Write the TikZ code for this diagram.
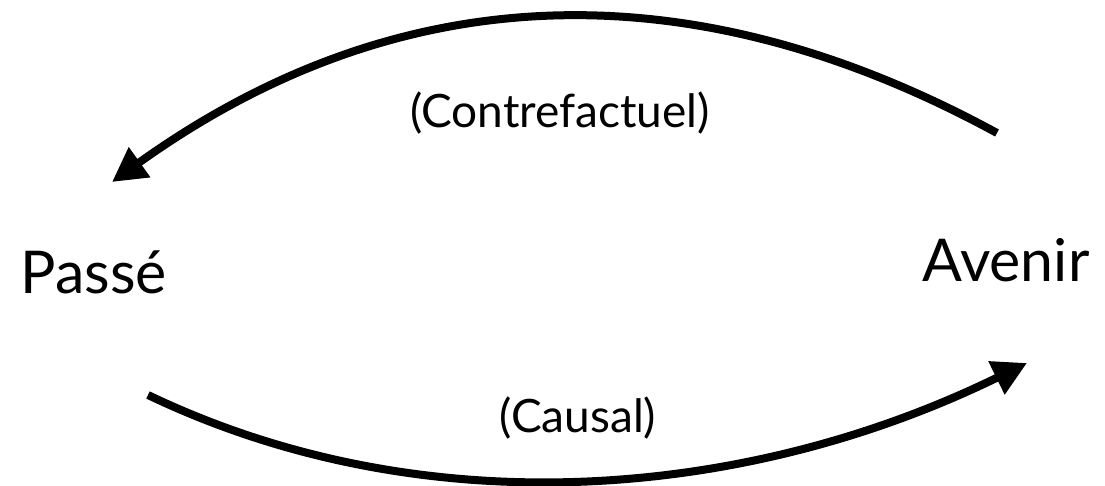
\documentclass[tikz,border=0pt]{standalone}
\usepackage{fontspec}
\setmainfont{Lato}
\usetikzlibrary{arrows.meta}
\tikzset{
  conn/.style={line width=8pt, -{Triangle[length=34pt,width=35pt]}},
  big/.style={font=\fontsize{59}{66}\selectfont, anchor=base, inner sep=0pt},
  lab/.style={font=\fontsize{46}{52}\selectfont, anchor=base, inner sep=0pt}
}
\begin{document}
\begin{tikzpicture}[x=1pt,y=-1pt]
\useasboundingbox (0,0) rectangle (1105,486);
\node[big] (passe) at (94,293) {Passé};
\node[big] (avenir) at (1006,282) {Avenir};
\node[lab] (contre) at (560,128) {(Contrefactuel)};
\node[lab] (causal) at (578,432) {(Causal)};
\coordinate (topS) at (997,133);
\coordinate (topE) at (112,182);
\coordinate (botS) at (148,395);
\coordinate (botE) at (1027,363);
\draw[conn] (topS) .. controls (707,-25) and (412,-33) .. (topE);
\draw[conn] (botS) .. controls (426,528) and (749,499) .. (botE);
\end{tikzpicture}
\end{document}
